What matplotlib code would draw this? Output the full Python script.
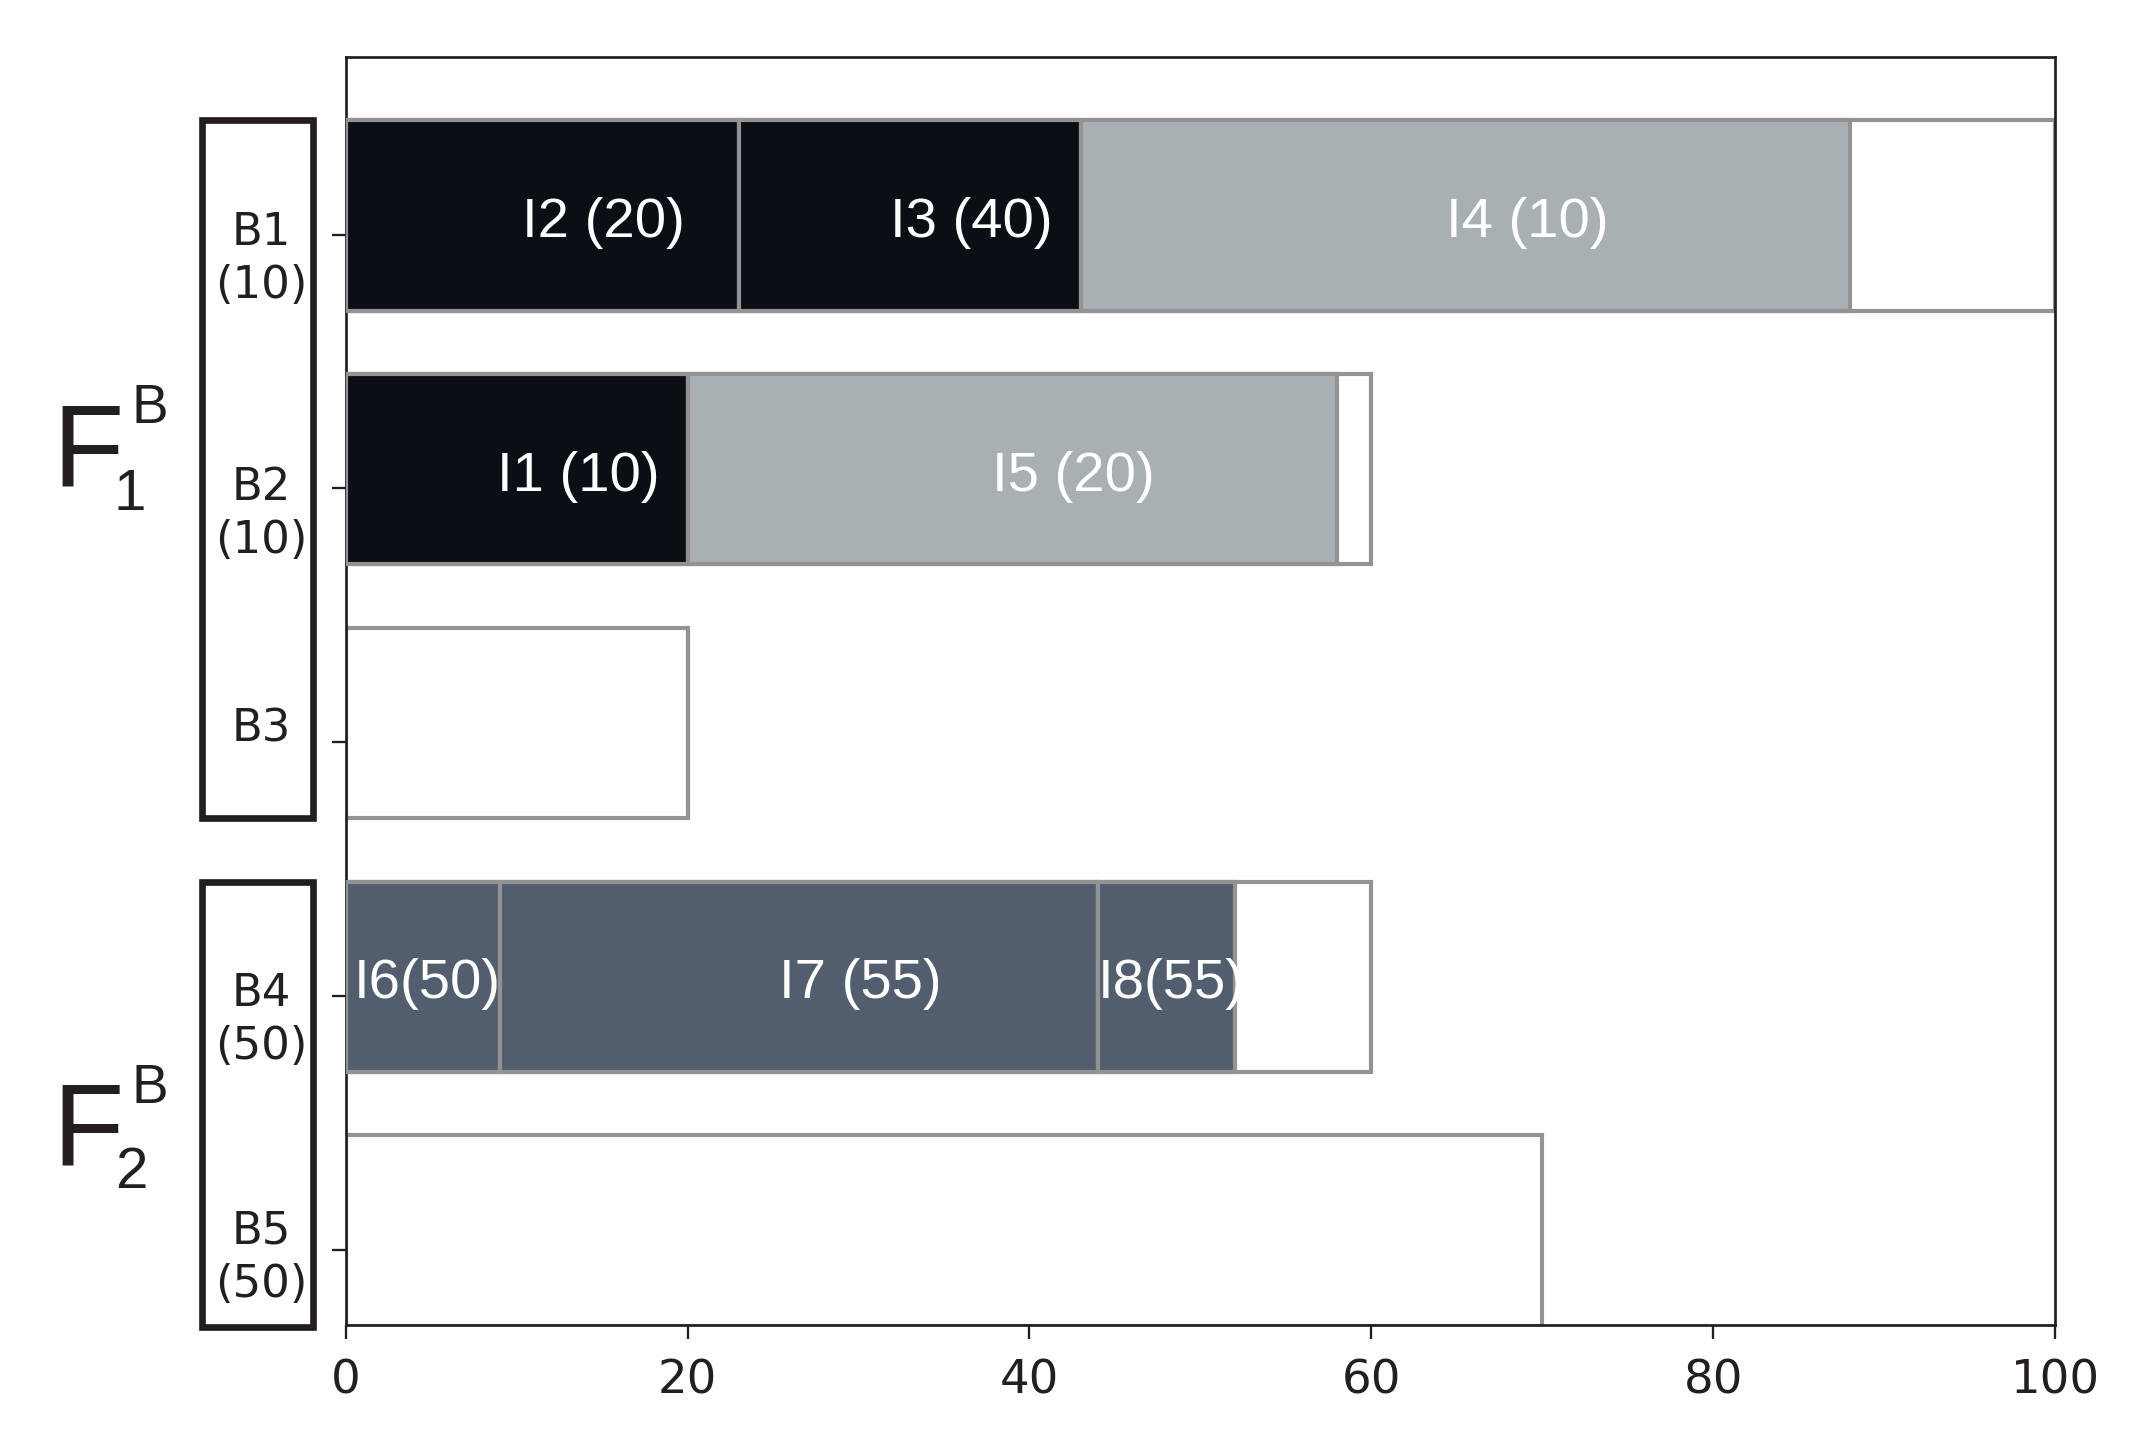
import matplotlib
matplotlib.use("Agg")
import matplotlib.pyplot as plt
from matplotlib.patches import Rectangle
import matplotlib.transforms as mtransforms

# ---------------- data ----------------
bin_labels = ["B1\n(10)", "B2\n(10)", "B3", "B4\n(50)", "B5\n(50)"]
bin_capacity = [100, 60, 20, 60, 70]

item_labels = ["I2 (20)", "I3 (40)", "I4 (10)", "I1 (10)", "I5 (20)", "I6(50)", "I7 (55)", "I8(55)"]
item_bin = [0, 0, 0, 1, 1, 3, 3, 3]
item_start = [0, 23, 43, 0, 20, 0, 9, 44]
item_size = [23, 20, 45, 20, 38, 9, 35, 8]
item_kind = ["dark", "dark", "gray", "dark", "gray", "slate", "slate", "slate"]

x_ticks = [0, 20, 40, 60, 80, 100]

# ---------------- style ----------------
colors = {"dark": "#0a0e15", "gray": "#a9b0b3", "slate": "#525e6e"}
edge = "#939393"
ink = "#231f20"
bar_h = 0.75
W, H = 2148, 1443

fig = plt.figure(figsize=(W / 300, H / 300), dpi=300)
ax_w = (2055 - 345.7) / W
ax = fig.add_axes([345.7 / W, 1 - 1326 / H, ax_w, (1326 - 57.5) / H])

ypos = list(range(len(bin_labels)))

# bin outlines (capacity)
ax.barh(ypos, bin_capacity, height=bar_h, left=0, color="white",
        edgecolor=edge, linewidth=1.0, zorder=2)

# items
ax.barh([ypos[b] for b in item_bin], item_size, height=bar_h, left=item_start,
        color=[colors[k] for k in item_kind], edgecolor=edge, linewidth=1.0, zorder=3)

for lab, b, s, w in zip(item_labels, item_bin, item_start, item_size):
    off = 3.6 if w >= 15 else 0.3
    ax.text(s + w / 2 + off, ypos[b] + 0.025, lab, ha="center", va="center",
            color="white", fontsize=13.5, family="Liberation Sans", zorder=5)

ax.set_xlim(0, 100)
ax.set_ylim(4.372, -0.626)
ax.set_xticks(x_ticks)
tick_shift = 0.0756
yticks = [p + tick_shift for p in ypos]
ax.set_yticks(yticks)
ax.set_yticklabels([])
ax.tick_params(axis="y", length=3.4, width=0.55, colors=ink)
ax.tick_params(axis="x", length=3.4, width=0.55, pad=4.3, labelsize=11.2, colors=ink)
for sp in ax.spines.values():
    sp.set_linewidth(0.65)
    sp.set_color(ink)

trans = mtransforms.blended_transform_factory(ax.transAxes, ax.transData)

# bin labels (drawn as text, centred inside the group boxes)
label_dy = [5.95, 5.7, 8.5, 5.95, 9.8]  # points upward, top of label vs tick
label_x = -(84 / W) / ax_w
for lab, yt, dy in zip(bin_labels, yticks, label_dy):
    ax.annotate(lab, xy=(label_x, yt), xycoords=trans, xytext=(0, dy),
                textcoords="offset points", ha="center", va="top",
                multialignment="center", linespacing=1.3, fontsize=10.8,
                color=ink, annotation_clip=False)

# group boxes around the bin labels
for y0, y1 in [(-0.375, 2.375), (2.625, 4.38)]:
    r = Rectangle((-0.0843, y0), 0.0652, y1 - y0, transform=trans, fill=False,
                  edgecolor=ink, linewidth=1.6, clip_on=False, zorder=6)
    ax.add_patch(r)

# F labels
fam = "Liberation Sans"
for (yF, yB, ys, xs, sub) in [(487, 423, 510, 114, "1"), (1166, 1103, 1188, 115, "2")]:
    fig.text(52 / W, 1 - yF / H, "F", fontsize=28, family=fam, color=ink, va="baseline", ha="left")
    fig.text(131 / W, 1 - yB / H, "B", fontsize=13.2, family=fam, color=ink, va="baseline", ha="left")
    fig.text(xs / W, 1 - ys / H, sub, fontsize=14, family=fam, color=ink, va="baseline", ha="left")

fig.savefig("out.png", dpi=300, facecolor="white")
